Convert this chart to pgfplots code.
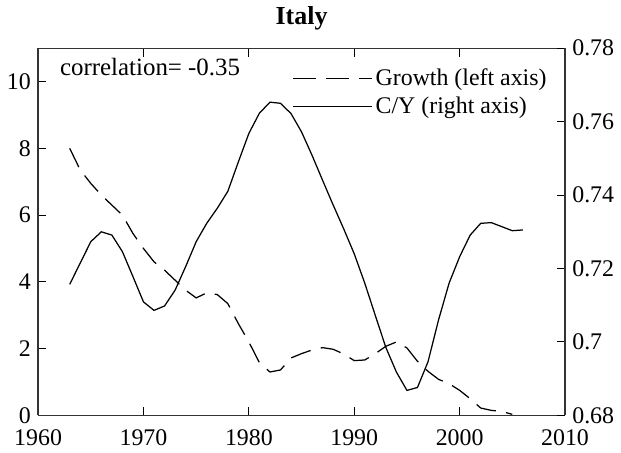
\documentclass[border=0pt]{standalone}
\usepackage{pgfplots}
\pgfplotsset{compat=1.18}
\usepackage{fontspec}
\setmainfont{Liberation Serif}
\begin{document}
\begin{tikzpicture}
\pgfplotsset{
  every axis/.append style={
    scale only axis, width=254pt, height=177pt,
    xmin=1960, xmax=2010,
    /pgf/number format/assume math mode=true,
    tick label style={font=\fontsize{11.5}{13}\selectfont},
    axis line style={line width=0.6pt, black!80},
    major tick length=4pt,
    tick style={line width=0.5pt, black},
  }
}
\begin{axis}[
  ymin=0, ymax=11,
  ytick={0,2,4,6,8,10},
  xtick={1960,1970,1980,1990,2000,2010},
  x tick label style={/pgf/number format/1000 sep={}, yshift=-3.5pt},
  xtick pos=both, ytick pos=left,
  axis y line*=left,
  axis x line*=box,
  title={\fontsize{12.5}{14}\selectfont\bfseries Italy},
  title style={yshift=-1pt},
]
\addplot[black, line width=0.6pt, dash pattern=on 10pt off 5pt] coordinates {
(1963,8.0) (1964,7.35) (1965,6.95) (1966,6.6) (1967,6.3) (1968,6.0)
(1969,5.45) (1970,5.0) (1971,4.6) (1972,4.35) (1973,4.05) (1974,3.75)
(1975,3.52) (1976,3.67) (1977,3.62) (1978,3.35) (1979,2.75) (1980,2.2)
(1981,1.58) (1982,1.3) (1983,1.36) (1984,1.72) (1985,1.85) (1986,1.96)
(1987,2.03) (1988,1.98) (1989,1.84) (1990,1.64) (1991,1.66) (1992,1.85)
(1993,2.07) (1994,2.2) (1995,2.02) (1996,1.62) (1997,1.32) (1998,1.08)
(1999,0.95) (2000,0.75) (2001,0.5) (2002,0.22) (2003,0.15) (2004,0.12)
(2005,0.03)
};
\node[anchor=north west, inner sep=0pt, font=\fontsize{12}{14}\selectfont]
  at (rel axis cs:0.041,0.975) {correlation= -0.35};
\end{axis}
\begin{axis}[
  ymin=0.68, ymax=0.78,
  ytick={0.68,0.70,0.72,0.74,0.76,0.78},
  yticklabels={0.68,0.7,0.72,0.74,0.76,0.78},
  axis y line*=right,
  axis x line=none,
  legend style={at={(rel axis cs:0.482,0.955)}, anchor=north west,
    draw=none, fill=none, inner sep=0pt,
    font=\fontsize{11.5}{13}\selectfont, row sep=1pt,
    nodes={inner xsep=1.5pt, inner ysep=1.5pt}},
  legend cell align=left,
  legend image code/.code={\draw[#1] (0pt,0pt) -- (38pt,0pt);},
]
\addlegendimage{black, line width=0.6pt, dash pattern=on 11pt off 5pt}
\addlegendentry{Growth (left axis)}
\addplot[black, line width=0.6pt] coordinates {
(1963,0.7157) (1964,0.7215) (1965,0.7273) (1966,0.7300) (1967,0.7291)
(1968,0.7246) (1969,0.7178) (1970,0.7109) (1971,0.7086) (1972,0.7098)
(1973,0.7141) (1974,0.7205) (1975,0.7273) (1976,0.7323) (1977,0.7364)
(1978,0.7410) (1979,0.7490) (1980,0.7568) (1981,0.7623) (1982,0.7653)
(1983,0.7650) (1984,0.7622) (1985,0.7572) (1986,0.7508) (1987,0.7440)
(1988,0.7373) (1989,0.7308) (1990,0.7240) (1991,0.7160) (1992,0.7072)
(1993,0.6985) (1994,0.6918) (1995,0.6868) (1996,0.6876) (1997,0.6946)
(1998,0.7060) (1999,0.7160) (2000,0.7232) (2001,0.7291) (2002,0.7323)
(2003,0.7325) (2004,0.7314) (2005,0.7303) (2006,0.7305)
};
\addlegendentry{C/Y (right axis)}
\end{axis}
\end{tikzpicture}
\end{document}
